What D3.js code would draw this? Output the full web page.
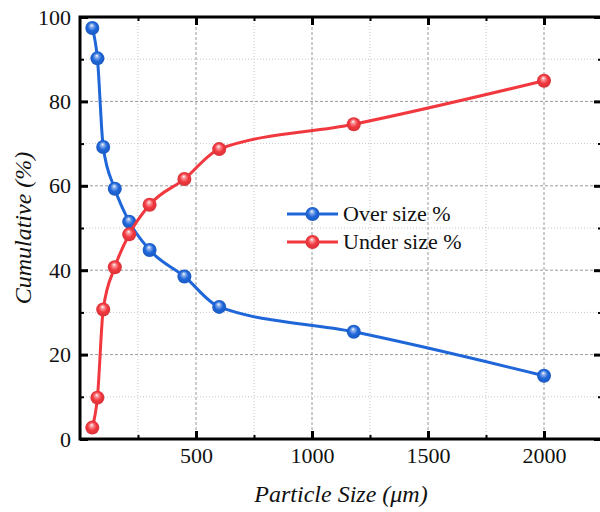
<!DOCTYPE html>
<meta charset="utf-8">
<script src="https://d3js.org/d3.v7.min.js"></script>
<style>
  body { margin: 0; background: #fff; }
</style>
<div id="my_dataviz"></div>
<script>

// particle sizes (um) and cumulative percentages
var sizes = [53, 75, 100, 150, 212, 300, 450, 600, 1180, 2000];
var overSize = [97.4, 90.2, 69.2, 59.3, 51.5, 44.8, 38.5, 31.3, 25.4, 15.0];
var underSize = [2.7, 9.8, 30.7, 40.7, 48.5, 55.5, 61.6, 68.7, 74.6, 84.9];

var xMajor = [0, 500, 1000, 1500, 2000];
var xMinor = [250, 750, 1250, 1750];
var yMajor = [0, 20, 40, 60, 80, 100];
var yMinor = [10, 30, 50, 70, 90];

var seriesNames = ["Over size %", "Under size %"];
var seriesColors = ["#1f66d9", "#f2383f"];

var FONT = "Liberation Serif, Tinos, DejaVu Serif, serif";
var W = 600, H = 512;
var pLeft = 80, pRight = 602, pTop = 17, pBottom = 439;

var svg = d3.select("#my_dataviz")
  .append("svg")
    .attr("width", W)
    .attr("height", H);

var defs = svg.append("defs");
seriesColors.forEach(function(c, i) {
  var g = defs.append("radialGradient")
    .attr("id", "ball" + i)
    .attr("cx", "50%").attr("cy", "50%").attr("r", "55%")
    .attr("fx", "45%").attr("fy", "30%");
  g.append("stop").attr("offset", "0%").attr("stop-color", "#ffffff");
  g.append("stop").attr("offset", "20%").attr("stop-color", d3.interpolateRgb("#ffffff", c)(0.5));
  g.append("stop").attr("offset", "55%").attr("stop-color", c);
  g.append("stop").attr("offset", "100%").attr("stop-color", d3.color(c).darker(0.4));
});

var x = d3.scaleLinear().domain([0, 2250]).range([pLeft, pRight]);
var y = d3.scaleLinear().domain([0, 100]).range([pBottom, pTop]);

// grid
var grid = svg.append("g");
grid.selectAll(".vminor").data(xMinor).enter().append("line")
  .attr("x1", function(d) { return x(d); }).attr("x2", function(d) { return x(d); })
  .attr("y1", pTop).attr("y2", pBottom)
  .attr("stroke", "#c8c8c8").attr("stroke-width", 1).attr("stroke-dasharray", "1,2");
grid.selectAll(".hminor").data(yMinor).enter().append("line")
  .attr("y1", function(d) { return y(d); }).attr("y2", function(d) { return y(d); })
  .attr("x1", pLeft).attr("x2", pRight)
  .attr("stroke", "#c8c8c8").attr("stroke-width", 1).attr("stroke-dasharray", "1,2");
grid.selectAll(".vmajor").data(xMajor.slice(1)).enter().append("line")
  .attr("x1", function(d) { return x(d); }).attr("x2", function(d) { return x(d); })
  .attr("y1", pTop).attr("y2", pBottom)
  .attr("stroke", "#9a9a9a").attr("stroke-width", 1).attr("stroke-dasharray", "3,2");
grid.selectAll(".hmajor").data(yMajor.slice(1, -1)).enter().append("line")
  .attr("y1", function(d) { return y(d); }).attr("y2", function(d) { return y(d); })
  .attr("x1", pLeft).attr("x2", pRight)
  .attr("stroke", "#9a9a9a").attr("stroke-width", 1).attr("stroke-dasharray", "3,2");

// axes (ticks inside)
function styleTicks(w) {
  return function(g) {
    g.select(".domain").remove();
    g.attr("font-family", FONT).attr("font-size", 22);
    g.selectAll("line").attr("stroke", "#000").attr("stroke-width", w);
    g.selectAll("text")
      .attr("font-family", FONT)
      .attr("font-size", 22)
      .attr("fill", "#111");
  };
}
svg.append("g")
  .attr("transform", "translate(0," + pBottom + ")")
  .call(d3.axisBottom(x).tickValues(xMajor.slice(1)).tickSize(-8).tickPadding(8).tickFormat(d3.format("d")))
  .call(styleTicks(3));
svg.append("g")
  .attr("transform", "translate(0," + pBottom + ")")
  .call(d3.axisBottom(x).tickValues(xMinor).tickSize(-4).tickFormat(""))
  .call(styleTicks(2));

svg.append("g")
  .attr("transform", "translate(" + pLeft + ",0)")
  .call(d3.axisLeft(y).tickValues(yMajor).tickSize(-8).tickPadding(9))
  .call(styleTicks(3));
svg.append("g")
  .attr("transform", "translate(" + pLeft + ",0)")
  .call(d3.axisLeft(y).tickValues(yMinor).tickSize(-4).tickFormat(""))
  .call(styleTicks(2));

// top and right ticks
svg.append("g")
  .attr("transform", "translate(0," + pTop + ")")
  .call(d3.axisTop(x).tickValues(xMajor.slice(1)).tickSize(-8).tickFormat(""))
  .call(styleTicks(3));
svg.append("g")
  .attr("transform", "translate(0," + pTop + ")")
  .call(d3.axisTop(x).tickValues(xMinor).tickSize(-4).tickFormat(""))
  .call(styleTicks(2));
svg.append("g")
  .attr("transform", "translate(" + pRight + ",0)")
  .call(d3.axisRight(y).tickValues(yMajor).tickSize(-8).tickFormat(""))
  .call(styleTicks(3));
svg.append("g")
  .attr("transform", "translate(" + pRight + ",0)")
  .call(d3.axisRight(y).tickValues(yMinor).tickSize(-4).tickFormat(""))
  .call(styleTicks(2));

// frame
svg.append("rect")
  .attr("x", pLeft).attr("y", pTop)
  .attr("width", pRight - pLeft).attr("height", pBottom - pTop)
  .attr("fill", "none").attr("stroke", "#000").attr("stroke-width", 3);

// series
var series = [overSize, underSize];
var line = d3.line()
  .x(function(d) { return x(d[0]); })
  .y(function(d) { return y(d[1]); })
  .curve(d3.curveMonotoneX);

series.forEach(function(vals, i) {
  var pts = sizes.map(function(s, j) { return [s, vals[j]]; });
  svg.append("path")
    .datum(pts)
    .attr("fill", "none")
    .attr("stroke", seriesColors[i])
    .attr("stroke-width", 3)
    .attr("d", line);
  svg.append("g").selectAll("circle")
    .data(pts)
    .enter()
    .append("circle")
      .attr("cx", function(d) { return x(d[0]); })
      .attr("cy", function(d) { return y(d[1]); })
      .attr("r", 7)
      .attr("fill", "url(#ball" + i + ")");
});

// legend
var legend = svg.append("g").attr("transform", "translate(287,214)");
seriesNames.forEach(function(name, i) {
  var g = legend.append("g").attr("transform", "translate(0," + (i * 28) + ")");
  g.append("line").attr("x1", 0).attr("x2", 51).attr("y1", 0).attr("y2", 0)
    .attr("stroke", seriesColors[i]).attr("stroke-width", 3);
  g.append("circle").attr("cx", 25.5).attr("cy", 0).attr("r", 7).attr("fill", "url(#ball" + i + ")");
  g.append("text").attr("x", 56).attr("y", 7)
    .attr("font-family", FONT).attr("font-size", 22).attr("fill", "#111")
    .text(name);
});

// axis titles
svg.append("text")
  .attr("x", (pLeft + pRight) / 2).attr("y", 502)
  .attr("text-anchor", "middle")
  .attr("font-family", FONT).attr("font-size", 24).attr("font-style", "italic")
  .attr("fill", "#111")
  .text("Particle Size (\u03bcm)");
svg.append("text")
  .attr("transform", "translate(31," + ((pTop + pBottom) / 2) + ") rotate(-90)")
  .attr("text-anchor", "middle")
  .attr("font-family", FONT).attr("font-size", 24).attr("font-style", "italic")
  .attr("fill", "#111")
  .text("Cumulative (%)");

</script>
